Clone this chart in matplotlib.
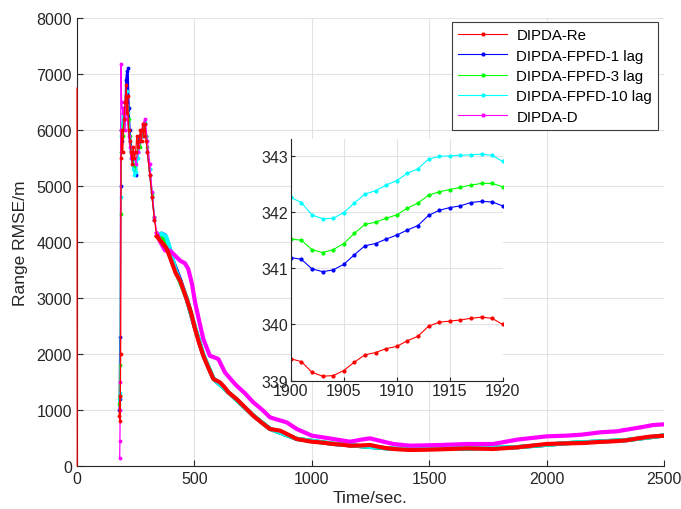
import numpy as np
import matplotlib
matplotlib.use("Agg")
import matplotlib.pyplot as plt

plt.rcParams['font.family'] = ['Liberation Sans', 'DejaVu Sans']

labels = ['DIPDA-Re', 'DIPDA-FPFD-1 lag', 'DIPDA-FPFD-3 lag', 'DIPDA-FPFD-10 lag', 'DIPDA-D']
colors = ['#ff0000', '#0000ff', '#00ff00', '#00ffff', '#ff00ff']

# ---- main plot data (Time/sec., Range RMSE/m) ----
re_x = [180, 182, 184, 186, 188, 190, 195, 200, 205, 210, 213, 216, 220, 225, 230, 235, 240, 245, 250,
        255, 260, 265, 270, 275, 280, 285, 290, 295, 300, 310, 320, 330, 340, 360, 380, 396, 420, 440,
        467, 485, 503, 520, 538, 560, 581, 609, 630, 645, 680, 715, 751, 785, 822, 865, 900, 936, 1000,
        1040, 1092, 1130, 1163, 1200, 1248, 1300, 1347, 1418, 1480, 1546, 1600, 1660, 1720, 1773, 1873,
        1940, 2000, 2085, 2150, 2227, 2300, 2341, 2400, 2440, 2500]
re_y = [900, 1250, 800, 2000, 5500, 6000, 5600, 6200, 6500, 6800, 6300, 6600, 6000, 5800, 5600, 5400,
        5700, 5500, 5600, 5900, 5700, 5800, 6000, 5800, 6100, 5900, 6100, 5800, 5600, 5200, 4800, 4400,
        4100, 4000, 3900, 3727, 3450, 3300, 2982, 2750, 2446, 2200, 1970, 1750, 1554, 1494, 1400, 1316,
        1196, 1050, 898, 780, 661, 631, 560, 482, 434, 420, 393, 380, 363, 365, 375, 330, 304, 286, 290,
        298, 305, 315, 310, 304, 333, 365, 393, 405, 410, 430, 445, 460, 500, 524, 542]
# first sample of DIPDA-Re at t = 0
re_start_x = [0, 1]
re_start_y = [6750, 0]

lag1_x = [180, 182, 184, 186, 188, 192, 197, 203, 208, 212, 215, 218, 222, 226, 232, 238, 245, 252, 258,
          264, 270, 276, 282, 288, 294, 300, 310, 320, 330, 345, 360, 375, 390, 410, 440, 467, 503, 538,
          581, 645, 751, 822, 936, 1092, 1347, 1600, 1873, 2085, 2341, 2500]
lag1_y = [1000, 2300, 1200, 5000, 6000, 5800, 6400, 6200, 6900, 7050, 6500, 7100, 6400, 6000, 5700,
          5500, 5300, 5200, 5600, 5900, 5800, 6000, 5900, 6100, 5900, 5600, 5200, 4800, 4400, 4100, 4150,
          4120, 3950, 3650, 3320, 2990, 2460, 1980, 1560, 1318, 900, 663, 484, 395, 306, 307, 335, 407,
          462, 544]

lag3_x = [180, 182, 184, 186, 188, 193, 198, 204, 210, 215, 220, 225, 232, 240, 248, 255, 262, 270, 278,
          286, 294, 300, 310, 320, 330, 345, 360, 380, 396, 420, 467, 503, 538, 581, 645, 751, 822, 936,
          1092, 1347, 1600, 1873, 2085, 2341, 2500]
lag3_y = [1100, 1800, 1250, 4500, 5600, 6100, 5900, 6300, 6600, 6400, 6200, 5900, 5600, 5400, 5300,
          5500, 5800, 5700, 6000, 6100, 5900, 5700, 5300, 4850, 4450, 4120, 4100, 3950, 3760, 3480, 2995,
          2470, 1985, 1562, 1319, 901, 664, 485, 396, 307, 308, 336, 408, 463, 545]

lag10_x = [180, 182, 184, 186, 188, 194, 200, 206, 212, 218, 224, 230, 238, 245, 252, 260, 268, 276,
           284, 290, 298, 310, 320, 330, 345, 360, 380, 395, 420, 467, 503, 538, 581, 645, 751, 822, 936,
           1092, 1347, 1600, 1873, 2085, 2341, 2500]
lag10_y = [1200, 1000, 1300, 4800, 5900, 6300, 6100, 6500, 6700, 6300, 5800, 5500, 5300, 5200, 5250,
           5500, 5800, 5900, 6100, 6150, 5800, 5300, 4900, 4450, 4120, 4150, 4100, 3900, 3500, 3000, 2475,
           1990, 1565, 1320, 902, 665, 486, 397, 308, 309, 337, 409, 464, 546]

d_x = [182, 183, 184, 185, 186, 188, 190, 195, 200, 205, 210, 215, 220, 225, 230, 240, 250, 260, 270,
       280, 290, 300, 310, 320, 330, 340, 355, 375, 396, 420, 439, 460, 474, 490, 503, 520, 538, 566, 602,
       630, 655, 680, 715, 751, 790, 822, 860, 893, 936, 1000, 1050, 1092, 1163, 1210, 1248, 1300, 1347,
       1418, 1546, 1660, 1773, 1873, 2000, 2085, 2150, 2227, 2300, 2341, 2400, 2454, 2500]
d_y = [150, 450, 1000, 1500, 6000, 7180, 6500, 6300, 6400, 6000, 6600, 6200, 5900, 5700, 5500, 5600,
       5400, 5600, 5800, 6100, 6200, 5800, 5400, 4900, 4450, 4150, 4000, 3850, 3845, 3750, 3667, 3620,
       3518, 3250, 2923, 2600, 2268, 1970, 1911, 1673, 1550, 1434, 1300, 1137, 1000, 869, 820, 780, 661,
       542, 510, 482, 434, 470, 494, 440, 393, 363, 375, 393, 393, 470, 530, 542, 560, 601, 620, 649,
       690, 732, 744]

# ---- zoomed window data ----
zoom_t = np.arange(1900, 1921)
zoom_re = [339.39, 339.34, 339.15, 339.08, 339.09, 339.18, 339.33, 339.46, 339.50, 339.57, 339.61,
           339.71, 339.79, 339.97, 340.04, 340.06, 340.08, 340.11, 340.13, 340.11, 340.00]
zoom_lag1 = [341.19, 341.16, 340.99, 340.94, 340.97, 341.07, 341.24, 341.40, 341.44, 341.52, 341.59,
             341.68, 341.76, 341.94, 342.03, 342.08, 342.11, 342.17, 342.19, 342.18, 342.11]
zoom_lag3 = [341.52, 341.50, 341.33, 341.28, 341.33, 341.44, 341.62, 341.78, 341.82, 341.89, 341.95,
             342.07, 342.16, 342.30, 342.36, 342.40, 342.44, 342.48, 342.51, 342.51, 342.45]
zoom_lag10 = [342.26, 342.17, 341.95, 341.88, 341.89, 341.99, 342.16, 342.32, 342.38, 342.48, 342.56,
              342.69, 342.77, 342.94, 342.99, 343.00, 343.01, 343.02, 343.03, 343.01, 342.90]

axis_col = '#262626'
grid_col = '#e3e3e3'

fig = plt.figure(figsize=(6.81, 5.10), dpi=100)
ax = fig.add_axes([0.113, 0.0843, 0.862, 0.8784])

main_series = [(lag1_x, lag1_y, 1), (lag3_x, lag3_y, 2), (lag10_x, lag10_y, 3),
               (d_x, d_y, 4), (re_x, re_y, 0)]
split = 340
for xs, ys, ci in main_series:
    xs = np.asarray(xs)
    ys = np.asarray(ys)
    z = 5 if ci == 0 else 3 + ci * 0.1
    early = xs <= split
    late = xs >= split
    ax.plot(xs[early], ys[early], color=colors[ci], lw=0.9, marker='.', ms=3.5, zorder=z)
    ax.plot(xs[late], ys[late], color=colors[ci], lw=3.0, solid_joinstyle='round', zorder=z)
ax.plot(re_start_x, re_start_y, color=colors[0], lw=0.8, zorder=3, clip_on=False)

ax.set_xlim(0, 2500)
ax.set_ylim(0, 8000)
ax.set_xticks(np.arange(0, 2501, 500))
ax.set_yticks(np.arange(0, 8001, 1000))
ax.grid(True, color=grid_col, lw=0.8)
ax.set_axisbelow(True)
for s in ['top', 'right']:
    ax.spines[s].set_visible(False)
for s in ['left', 'bottom']:
    ax.spines[s].set_color(axis_col)
    ax.spines[s].set_linewidth(0.8)
ax.tick_params(direction='in', length=4, colors=axis_col, labelsize=11.5)
ax.set_xlabel('Time/sec.', fontsize=12.5, color=axis_col, labelpad=3)
ax.set_ylabel('Range RMSE/m', fontsize=12.5, color=axis_col, labelpad=6)

# ---- inset ----
ins = fig.add_axes([0.4269, 0.2516, 0.3113, 0.4739])
ins.set_facecolor('white')
handles = []
for ys, ci in [(zoom_re, 0), (zoom_lag1, 1), (zoom_lag3, 2), (zoom_lag10, 3)]:
    h, = ins.plot(zoom_t, ys, color=colors[ci], lw=0.8, marker='.', ms=4)
    handles.append(h)
d_handle, = ins.plot([], [], color=colors[4], lw=0.8, marker='.', ms=4)
handles.append(d_handle)
ins.set_xlim(1900, 1920)
ins.set_ylim(339, 343.3)
ins.set_xticks(np.arange(1900, 1921, 5))
ins.set_yticks(np.arange(339, 344, 1))
ins.grid(True, color=grid_col, lw=0.8)
ins.set_axisbelow(True)
for s in ['top', 'right']:
    ins.spines[s].set_visible(False)
for s in ['left', 'bottom']:
    ins.spines[s].set_color(axis_col)
    ins.spines[s].set_linewidth(0.8)
ins.tick_params(direction='in', length=3, colors=axis_col, labelsize=11.5, pad=2)

leg = ax.legend(handles, labels, loc='upper right', bbox_to_anchor=(0.995, 0.997), fontsize=10.8,
                fancybox=False, edgecolor='#3c3c3c', framealpha=1, handlelength=3.3,
                borderaxespad=0.2, labelspacing=0.42, handletextpad=0.6)
leg.get_frame().set_linewidth(0.8)
leg.set_zorder(10)

fig.savefig('out.png', dpi=100, facecolor='white')
